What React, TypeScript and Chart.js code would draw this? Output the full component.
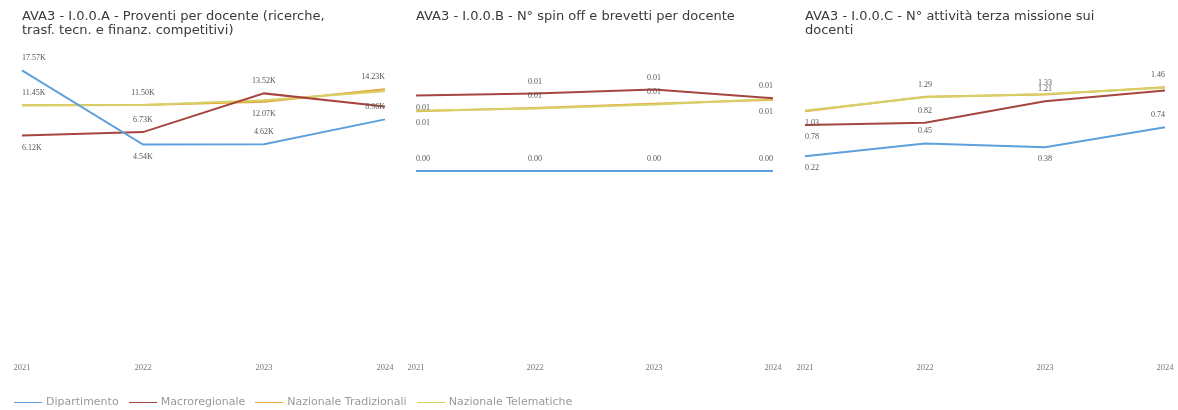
import React, { useEffect, useRef } from "react";
import { Chart, registerables } from "chart.js";

Chart.register(...registerables);

// ---------- data ----------
const years = ["2021", "2022", "2023", "2024"];
const seriesNames = ["Dipartimento", "Macroregionale", "Nazionale Tradizionali", "Nazionale Telematiche"];
const seriesColors = ["#5DA0DC", "#A6453F", "#EAA53C", "#D6D26A"];
const drawOrder = [0, 1, 3, 2];

// Chart A - Proventi per docente (K)
const titleA = ["AVA3 - I.0.0.A - Proventi per docente (ricerche,", "trasf. tecn. e finanz. competitivi)"];
const depA = [17.57, 4.54, 4.62, 8.96];
const macroA = [6.12, 6.73, 13.52, 11.2];
const tradA = [11.45, 11.5, 12.07, 14.23];
const telA = [11.45, 11.5, 12.3, 13.9];
const rangeA = [-31.8, 21.9];
const labelPosA = [["a", "b", "a", "a"], ["b", "a", "a", ""], ["a", "a", "b", "a"], ["", "", "", ""]];

// Chart B - N° spin off e brevetti per docente
const titleB = ["AVA3 - I.0.0.B - N° spin off e brevetti per docente", ""];
const depB = [0, 0, 0, 0];
const macroB = [0.011, 0.0113, 0.0119, 0.0106];
const tradB = [0.0087, 0.0092, 0.0098, 0.0104];
const telB = [0.0088, 0.0091, 0.0097, 0.0105];
const rangeB = [-0.0264, 0.0183];
const labelPosB = [["a", "a", "a", "a"], ["b", "a", "a", "a"], ["b", "a", "a", "b"], ["", "", "", ""]];

// Chart C - N° attività terza missione sui docenti
const titleC = ["AVA3 - I.0.0.C - N° attività terza missione sui", "docenti"];
const depC = [0.22, 0.45, 0.38, 0.74];
const macroC = [0.78, 0.82, 1.21, 1.4];
const tradC = [1.03, 1.29, 1.33, 1.46];
const telC = [1.04, 1.28, 1.34, 1.45];
const rangeC = [-3.3, 2.21];
const labelPosC = [["b", "a", "b", "a"], ["b", "a", "a", ""], ["b", "a", "a", "a"], ["", "", "", ""]];

// ---------- plugin ----------
const pointLabels = {
  id: "pointLabels",
  afterDatasetsDraw(chart: any, _args: any, opts: any) {
    const ctx = chart.ctx;
    ctx.save();
    ctx.font = "8px 'Liberation Serif', serif";
    ctx.fillStyle = "#555";
    ctx.textBaseline = "middle";
    chart.data.datasets.forEach((ds: any, i: number) => {
      const meta = chart.getDatasetMeta(i);
      const pos = opts.positions[i] || [];
      meta.data.forEach((pt: any, j: number) => {
        const p = pos[j];
        if (!p) return;
        const n = meta.data.length;
        ctx.textAlign = j === 0 ? "left" : j === n - 1 ? "right" : "center";
        const y = p === "a" ? pt.y - 12 : pt.y + 12;
        ctx.fillText(opts.format(ds.data[j]), pt.x, y);
      });
    });
    ctx.restore();
  },
};

type Props = {
  title: string[];
  series: number[][];
  range: number[];
  positions: string[][];
  format: (v: number) => string;
  left: number;
  right: number;
};

function LineChart({ title, series, range, positions, format, left, right }: Props) {
  const ref = useRef<HTMLCanvasElement>(null);
  useEffect(() => {
    if (!ref.current) return;
    const chart = new Chart(ref.current, {
      type: "line",
      data: {
        labels: years,
        datasets: series.map((d, i) => ({
          label: seriesNames[i],
          data: d,
          borderColor: seriesColors[i],
          backgroundColor: seriesColors[i],
          borderWidth: 2,
          pointRadius: 0,
          tension: 0,
          order: drawOrder[i],
        })),
      },
      options: {
        animation: false,
        responsive: false,
        layout: { padding: { left, right, top: 9, bottom: 34 } },
        plugins: {
          legend: { display: false },
          tooltip: { enabled: false },
          title: {
            display: true,
            text: title,
            align: "start",
            color: "#3a3a3a",
            font: { family: "'DejaVu Sans', sans-serif", size: 13, weight: "normal", lineHeight: 1.1 },
            padding: { top: 0, bottom: 8 },
          },
          pointLabels: { positions, format },
        } as any,
        scales: {
          x: {
            offset: false,
            grid: { display: false },
            border: { display: false },
            ticks: {
              color: "#777",
              font: { family: "'Liberation Serif', serif", size: 8.5 },
              maxRotation: 0,
              autoSkip: false,
              padding: 3,
            },
          },
          y: { display: false, min: range[0], max: range[1] },
        },
      },
      plugins: [pointLabels as any],
    });
    return () => chart.destroy();
  }, []);
  return (
    <canvas
      ref={ref}
      width={1178}
      height={410}
      style={{ position: "absolute", left: 0, top: 0, width: 1178, height: 410 }}
    />
  );
}

const fmtK = (v: number) => v.toFixed(2) + "K";
const fmt2 = (v: number) => v.toFixed(2);

export default function App() {
  return (
    <div style={{ position: "fixed", left: 0, top: 0, width: 1178, height: 410, background: "#fff", overflow: "hidden" }}>
      <LineChart title={titleA} series={[depA, macroA, tradA, telA]} range={rangeA} positions={labelPosA} format={fmtK} left={22} right={793} />
      <LineChart title={titleB} series={[depB, macroB, tradB, telB]} range={rangeB} positions={labelPosB} format={fmt2} left={416} right={405} />
      <LineChart title={titleC} series={[depC, macroC, tradC, telC]} range={rangeC} positions={labelPosC} format={fmt2} left={805} right={13} />
      <div
        style={{
          position: "absolute",
          left: 14,
          top: 395,
          display: "flex",
          gap: 10,
          fontFamily: "'DejaVu Sans', sans-serif",
          fontSize: 11,
          color: "#9a9a9a",
          lineHeight: "14px",
        }}
      >
        {seriesNames.map((n, i) => (
          <div key={n} style={{ display: "flex", alignItems: "center" }}>
            <span style={{ display: "inline-block", width: 28, borderTop: `1.5px solid ${seriesColors[i]}`, marginRight: 4 }} />
            <span>{n}</span>
          </div>
        ))}
      </div>
    </div>
  );
}
